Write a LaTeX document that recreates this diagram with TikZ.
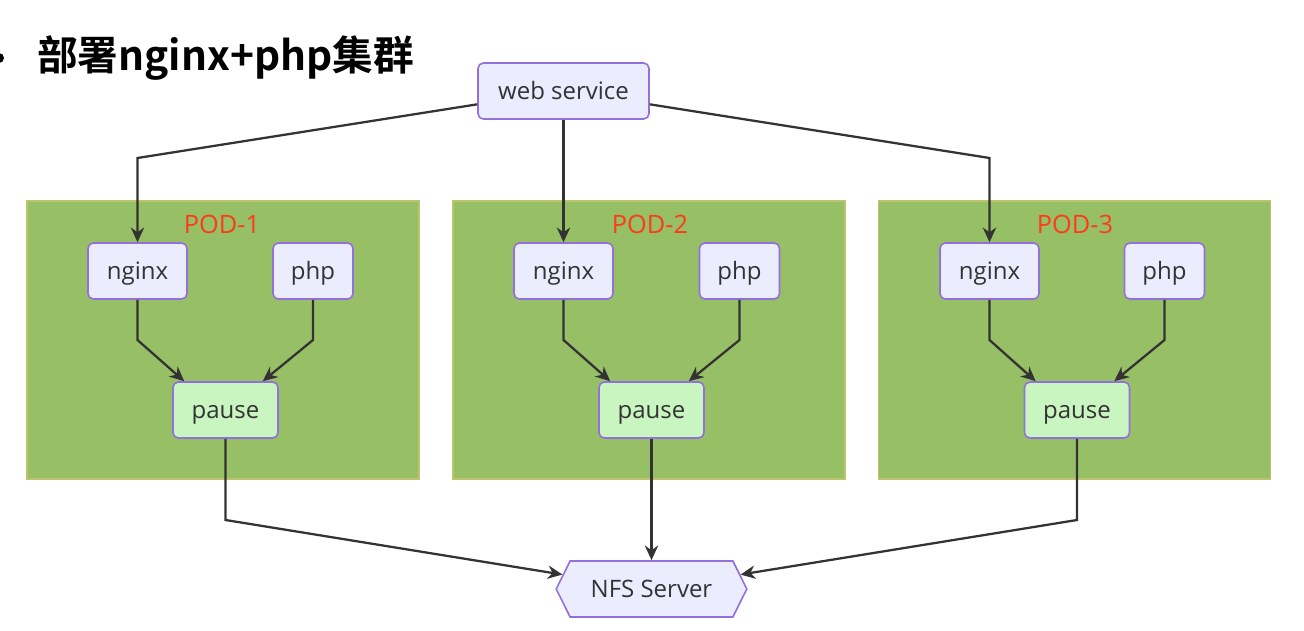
\documentclass[tikz,border=0pt]{standalone}
\usepackage{fontspec}
\setmainfont{Open Sans}
\newfontfamily\cjkbold[BoldFont={Noto Sans CJK SC Bold}]{Noto Sans CJK SC}
\usetikzlibrary{arrows.meta,shapes.symbols}
\definecolor{podgreen}{HTML}{97BF66}
\definecolor{podedge}{HTML}{BCC46E}
\definecolor{nodefill}{HTML}{ECECFF}
\definecolor{nodeedge}{HTML}{9370DB}
\definecolor{pausefill}{HTML}{C9F5C0}
\definecolor{edgecol}{HTML}{333333}
\definecolor{podred}{HTML}{FF3A1A}
\begin{document}
\begin{tikzpicture}[x=0.75pt,y=-0.75pt,
  box/.style={draw=nodeedge,fill=nodefill,line width=1.2pt,rounded corners=4pt,
    minimum height=42pt,inner sep=0pt,text height=16pt,text depth=3pt,
    font=\fontsize{18}{21}\selectfont,text=edgecol},
  pausebox/.style={box,fill=pausefill,minimum width=78.75pt},
  pod/.style={fill=podgreen,draw=podedge,line width=0.8pt,minimum width=294pt,minimum height=208.5pt,inner sep=0pt},
  podlabel/.style={text=podred,font=\fontsize{19}{22}\selectfont},
  arr/.style={draw=edgecol,line width=1.7pt,-{Stealth[length=11pt,width=10pt]}}]
\useasboundingbox (0,0) rectangle (1304,631);
\fill[white] (0,0) rectangle (1304,631);
% title
\fill[black] (-1,58) circle (5);
\node[anchor=west,inner sep=0pt,font=\fontsize{30.5}{36}\selectfont] (title) at (37,58) {\cjkbold\bfseries 部署nginx+php集群};
% pods
\node[pod] (pod1) at (223,340) {};
\node[pod] (pod2) at (649,340) {};
\node[pod] (pod3) at (1074.5,340) {};
\node[podlabel] (l1) at (222,224) {POD-1};
\node[podlabel] (l2) at (650,224) {POD-2};
\node[podlabel] (l3) at (1075,224) {POD-3};
% nodes
\node[box,minimum width=128.25pt] (ws) at (563.5,91) {web service};
\node[box,minimum width=74.25pt] (ng1) at (137.5,271) {nginx};
\node[box,minimum width=60pt] (ph1) at (313,271) {php};
\node[pausebox] (pz1) at (225.5,410) {pause};
\node[box,minimum width=74.25pt] (ng2) at (563.5,271) {nginx};
\node[box,minimum width=60pt] (ph2) at (739.5,271) {php};
\node[pausebox] (pz2) at (651.5,410) {pause};
\node[box,minimum width=74.25pt] (ng3) at (989.5,271) {nginx};
\node[box,minimum width=60pt] (ph3) at (1164.5,271) {php};
\node[pausebox] (pz3) at (1077,410) {pause};
\node[draw=nodeedge,fill=nodefill,line width=1.2pt,shape=signal,signal to=west and east,
  signal pointer angle=127,minimum width=143pt,minimum height=42pt,inner sep=0pt,
  text height=16pt,text depth=3pt,
  font=\fontsize{18}{21}\selectfont,text=edgecol] (nfs) at (651.5,589) {NFS Server};
% helper coordinates
\coordinate (ka) at (0,158);
\coordinate (kb) at (0,340);
\coordinate (kc) at (0,520);
% web service to nginx
\draw[arr] ([yshift=-10pt]ws.west) -- (ng1.north |- ka) -- (ng1.north);
\draw[arr] (ws.south) -- (ng2.north);
\draw[arr] ([yshift=-10pt]ws.east) -- (ng3.north |- ka) -- (ng3.north);
% nginx/php to pause
\draw[arr] (ng1.south) -- (ng1.south |- kb) -- ([xshift=9pt]pz1.north west);
\draw[arr] (ph1.south) -- (ph1.south |- kb) -- ([xshift=-12pt]pz1.north east);
\draw[arr] (ng2.south) -- (ng2.south |- kb) -- ([xshift=9pt]pz2.north west);
\draw[arr] (ph2.south) -- (ph2.south |- kb) -- ([xshift=-12pt]pz2.north east);
\draw[arr] (ng3.south) -- (ng3.south |- kb) -- ([xshift=9pt]pz3.north west);
\draw[arr] (ph3.south) -- (ph3.south |- kb) -- ([xshift=-12pt]pz3.north east);
% pause to NFS
\draw[arr] (pz1.south) -- (pz1.south |- kc) -- (nfs);
\draw[arr] (pz2.south) -- (nfs.north);
\draw[arr] (pz3.south) -- (pz3.south |- kc) -- (nfs);
\end{tikzpicture}
\end{document}
